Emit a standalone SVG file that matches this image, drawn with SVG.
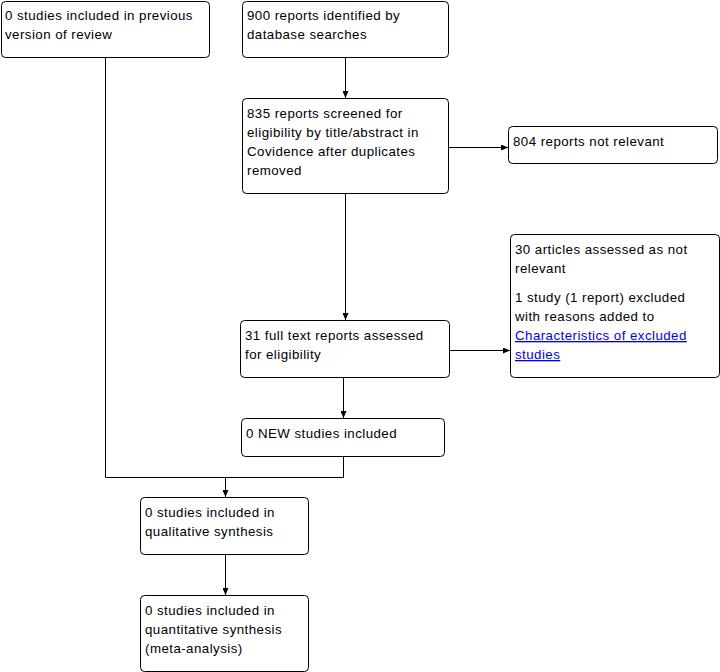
<svg xmlns="http://www.w3.org/2000/svg" width="720" height="672" viewBox="0 0 720 672">
<defs>
<marker id="arr" markerWidth="7" markerHeight="6" refX="7" refY="3" orient="auto" markerUnits="userSpaceOnUse">
<path d="M0,0 L7,3 L0,6 Z" fill="#000"/>
</marker>
<style>
.box{fill:#fff;stroke:#000;stroke-width:1}
text{font-family:"Liberation Sans",Arial,sans-serif;font-size:13.3px;letter-spacing:0.45px;fill:#000}
.link{fill:#0000ee;text-decoration:underline}
.c{fill:none;stroke:#000;stroke-width:1}
</style>
</defs>
<rect width="720" height="672" fill="#fff"/>
<g id="connectors">
<path class="c" d="M105.5,57 V477.5 H343.5 V456"/>
<path class="c" d="M225.5,477.5 V497" marker-end="url(#arr)"/>
<path class="c" d="M345.5,57 V98" marker-end="url(#arr)"/>
<path class="c" d="M448,147.5 H508" marker-end="url(#arr)"/>
<path class="c" d="M345.5,193 V320" marker-end="url(#arr)"/>
<path class="c" d="M449,350.5 H510" marker-end="url(#arr)"/>
<path class="c" d="M343.5,377 V418" marker-end="url(#arr)"/>
<path class="c" d="M225.5,554 V595" marker-end="url(#arr)"/>
</g>
<g id="prev">
<rect class="box" x="1.5" y="1.5" width="208" height="56" rx="4"/>
<text x="5" y="20">0 studies included in previous</text>
<text x="5" y="39">version of review</text>
</g>
<g id="identified">
<rect class="box" x="242.5" y="1.5" width="206" height="56" rx="4"/>
<text x="247" y="20">900 reports identified by</text>
<text x="247" y="39">database searches</text>
</g>
<g id="screened">
<rect class="box" x="242.5" y="98.5" width="206" height="95" rx="4"/>
<text x="247" y="118">835 reports screened for</text>
<text x="247" y="137">eligibility by title/abstract in</text>
<text x="247" y="156">Covidence after duplicates</text>
<text x="247" y="175">removed</text>
</g>
<g id="notrelevant">
<rect class="box" x="508.5" y="126.5" width="209" height="37" rx="4"/>
<text x="513" y="146">804 reports not relevant</text>
</g>
<g id="excluded">
<rect class="box" x="510.5" y="234.5" width="209" height="143" rx="4"/>
<text x="515" y="254">30 articles assessed as not</text>
<text x="515" y="273">relevant</text>
<text x="515" y="302">1 study (1 report) excluded</text>
<text x="515" y="321">with reasons added to</text>
<text x="515" y="340" class="link">Characteristics of excluded</text>
<text x="515" y="359" class="link">studies</text>
</g>
<g id="fulltext">
<rect class="box" x="240.5" y="320.5" width="209" height="57" rx="4"/>
<text x="245" y="340">31 full text reports assessed</text>
<text x="245" y="359">for eligibility</text>
</g>
<g id="newstudies">
<rect class="box" x="241.5" y="418.5" width="203" height="38" rx="4"/>
<text x="246" y="438">0 NEW studies included</text>
</g>
<g id="qualitative">
<rect class="box" x="140.5" y="497.5" width="168" height="57" rx="4"/>
<text x="145" y="517">0 studies included in</text>
<text x="145" y="536">qualitative synthesis</text>
</g>
<g id="quantitative">
<rect class="box" x="140.5" y="595.5" width="168" height="76" rx="4"/>
<text x="145" y="615">0 studies included in</text>
<text x="145" y="634">quantitative synthesis</text>
<text x="145" y="653">(meta-analysis)</text>
</g>
</svg>
